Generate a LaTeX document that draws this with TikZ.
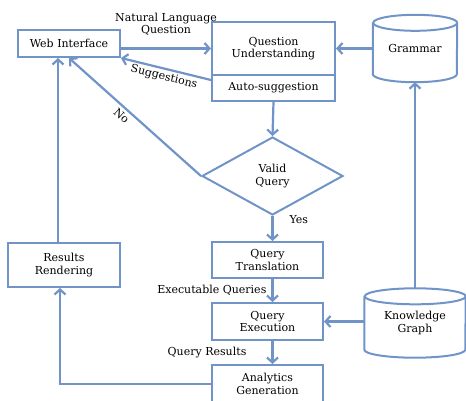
\documentclass[tikz,border=0pt]{standalone}
\usepackage{fontspec}
\setmainfont{DejaVu Serif}
\usetikzlibrary{shapes.geometric,arrows.meta}

\definecolor{flowblue}{RGB}{112,148,200}

\tikzset{
  box/.style={draw=flowblue, line width=2pt, fill=white, align=center, inner sep=2pt},
  db/.style={rectangle, align=center, inner sep=2pt},
  dbline/.style={draw=flowblue, line width=2pt},
  flow/.style={->, draw=flowblue, line width=2.2pt},
  lbl/.style={align=center, inner sep=1pt},
}

\begin{document}
\begin{tikzpicture}[x=1pt,y=-1pt,>={Straight Barb[length=5pt,width=11pt]},
    font=\fontsize{11}{12.5}\selectfont]
    % page size as in the reference (pixel coordinates, y downwards)
    \useasboundingbox (0,0) rectangle (466,400);

    % boxes of the pipeline
    \node[box, minimum width=102pt, minimum height=27pt] (web) at (69,43.5) {Web Interface};
    \node[box, minimum width=123pt, minimum height=53pt] (qu) at (273.5,48.5) {Question\\Understanding};
    \node[box, minimum width=123pt, minimum height=26pt] (auto) at (273.5,88) {Auto-suggestion};
    \node[box, diamond, aspect=1.8, inner sep=0pt, minimum width=141pt, minimum height=78pt] (valid) at (272.5,176) {Valid\\Query};
    \node[box, minimum width=111pt, minimum height=36pt] (qt) at (267.5,260) {Query\\Translation};
    \node[box, minimum width=111pt, minimum height=37pt] (qe) at (267.5,321.5) {Query\\Execution};
    \node[box, minimum width=111pt, minimum height=38pt] (ag) at (267.5,384) {Analytics\\Generation};
    \node[box, minimum width=112pt, minimum height=44pt] (rr) at (64,265) {Results\\Rendering};

    % data stores
    \node[db, minimum width=84pt, minimum height=67pt] (grammar) at (415,48.5) {Grammar};
    \node[db, minimum width=101pt, minimum height=69pt] (kg) at (415,323) {Knowledge\\Graph};

    % drum outlines round the two stores
    \foreach \n/\rx in {grammar/42,kg/50.5} {
      \draw[dbline] ([yshift=-8pt]\n.north west) -- ([yshift=8pt]\n.south west)
        arc[start angle=180, end angle=360, x radius=\rx pt, y radius=8pt]
        -- ([yshift=-8pt]\n.north east)
        arc[start angle=0, end angle=360, x radius=\rx pt, y radius=8pt];
    }

    % connectors
    \draw[flow] (web.east |- qu.west) -- node[lbl, above=11pt] (nlq) {Natural Language\\Question} (qu.west);
    \draw[flow] (grammar.west) -- (qu.east);
    \draw[flow] ([yshift=8pt]auto.west) -- node[lbl, sloped, below=1pt] (sug) {Suggestions} (web.south east);
    \draw[flow] (auto.south) -- (valid.north);
    \draw[flow] (valid.west) -- node[lbl, sloped, below=2pt, pos=0.56] (no) {No} (web.south);
    \draw[flow] (valid.south) -- node[lbl, right=15pt, pos=0.15] (yes) {Yes} (valid.south |- qt.north);
    \draw[flow] (valid.south |- qt.south) -- node[lbl, left=4pt] (exq) {Executable Queries} (valid.south |- qe.north);
    \draw[flow] (valid.south |- qe.south) -- node[lbl, left=24pt] (qres) {Query Results} (valid.south |- ag.north);
    \draw[flow] (kg.west |- qe.east) -- (qe.east);
    \draw[flow] (kg.north) -- (grammar.south);
    \draw[flow] (ag.west) -| ([xshift=-4pt]rr.south);
    \draw[flow] ([xshift=-6pt]rr.north) -- ([xshift=-6pt]rr.north |- web.south);
\end{tikzpicture}
\end{document}
